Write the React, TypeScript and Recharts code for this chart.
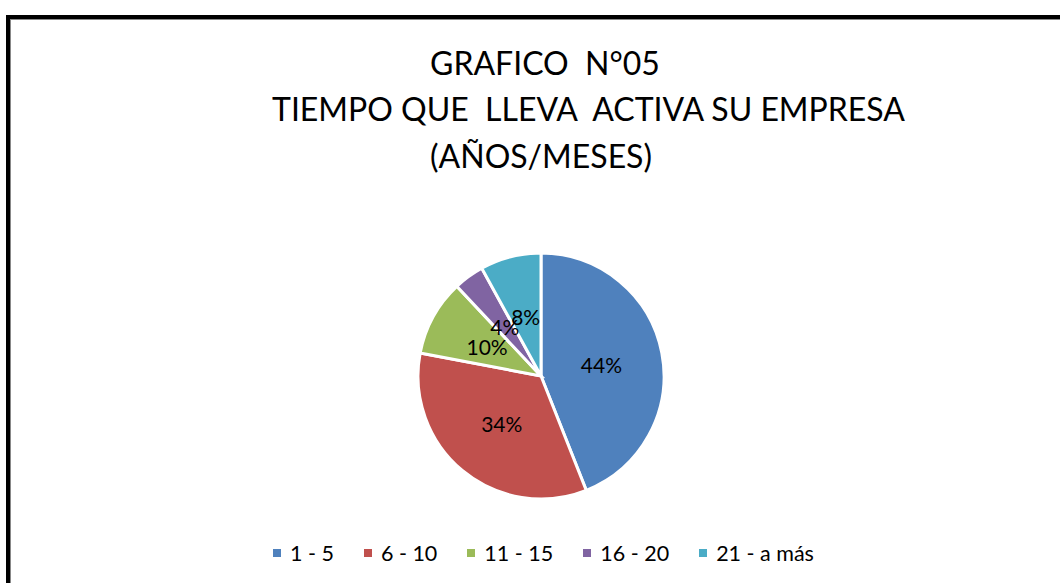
import { PieChart, Pie, Cell } from "recharts";

const categories = ["1 - 5", "6 - 10", "11 - 15", "16 - 20", "21 - a más"];
const shares = [44, 34, 10, 4, 8];
const colors = ["#4F81BD", "#C0504D", "#9BBB59", "#8064A2", "#4BACC6"];
const titleLines = ["GRAFICO  N°05", "TIEMPO QUE  LLEVA  ACTIVA SU EMPRESA", "(AÑOS/MESES)"];

const data = categories.map((name, i) => ({ name, value: shares[i] }));

const FONT = "Lato, 'Open Sans', sans-serif";
const RAD = Math.PI / 180;

const renderLabel = (props: any) => {
  const { cx, cy, midAngle, outerRadius, percent } = props;
  const r = outerRadius * 0.5;
  const x = cx + r * Math.cos(-midAngle * RAD);
  const y = cy + r * Math.sin(-midAngle * RAD);
  return (
    <text x={x} y={y} fill="#000" fontSize={21} fontFamily={FONT} textAnchor="middle" dominantBaseline="central">
      {`${Math.round(percent * 100)}%`}
    </text>
  );
};

export default function App() {
  return (
    <div style={{ position: "fixed", left: 0, top: 0, width: 1060, height: 583, overflow: "hidden", background: "#fff" }}>
      {/* outer frame, right and bottom edges run past the picture */}
      <div
        style={{
          position: "absolute",
          left: 6,
          top: 15,
          width: 1100,
          height: 620,
          border: "4px solid #000",
          boxShadow: "inset 1px 1px 0 #888",
        }}
      />
      <svg width={1060} height={200} style={{ position: "absolute", left: 0, top: 0 }}>
        <text x={430} y={75} fontSize={32} fontFamily={FONT} style={{ whiteSpace: "pre" }}>{titleLines[0]}</text>
        <text x={272} y={121} fontSize={32} fontFamily={FONT} style={{ whiteSpace: "pre" }}>{titleLines[1]}</text>
        <text x={430} y={168} fontSize={32} fontFamily={FONT} style={{ whiteSpace: "pre" }}>{titleLines[2]}</text>
      </svg>
      <div style={{ position: "absolute", left: 0, top: 0 }}>
        <PieChart width={1060} height={583} margin={{ top: 0, right: 0, bottom: 0, left: 0 }}>
          <Pie
            data={data}
            dataKey="value"
            nameKey="name"
            cx={541}
            cy={376}
            outerRadius={123}
            startAngle={90}
            endAngle={-270}
            stroke="#fff"
            strokeWidth={3}
            label={renderLabel}
            labelLine={false}
            isAnimationActive={false}
          >
            {data.map((d, i) => (
              <Cell key={d.name} fill={colors[i]} />
            ))}
          </Pie>
        </PieChart>
      </div>
      {/* legend */}
      <div
        style={{
          position: "absolute",
          left: 273,
          top: 538,
          display: "flex",
          gap: 30,
          fontFamily: FONT,
          fontSize: 21.5,
          lineHeight: "30px",
          whiteSpace: "pre",
        }}
      >
        {categories.map((c, i) => (
          <div key={c} style={{ display: "flex", alignItems: "center" }}>
            <span style={{ width: 8, height: 8, background: colors[i], display: "inline-block", marginRight: 9 }} />
            <span style={{ color: "#000" }}>{c}</span>
          </div>
        ))}
      </div>
    </div>
  );
}
